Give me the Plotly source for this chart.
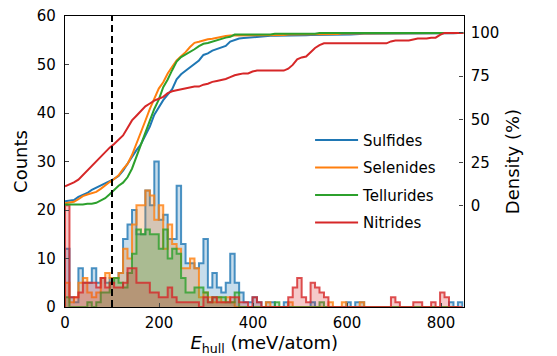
import numpy as np
import plotly.graph_objects as go
from plotly.subplots import make_subplots

# ---- data -------------------------------------------------------------
BIN_W = 9.5          # meV per histogram bin
X_MAX = 848          # axis upper limit (meV/atom)
CUTOFF = 100         # dashed reference line (meV/atom)

names = ["Sulfides", "Selenides", "Tellurides", "Nitrides"]
colors = ["#1f77b4", "#ff7f0e", "#2ca02c", "#d62728"]

def pad(v, n=88):
    return v + [0] * (n - len(v))

sulfides = pad([12, 2, 1, 8, 5, 5, 8, 5, 6, 5, 6,
                6, 7, 14, 17, 20, 15, 15, 24, 21, 30,
                18, 19, 14, 14, 25, 13, 9, 9, 8, 9,
                14, 4, 7, 4, 3, 5, 11, 5, 3, 1,
                1, 2, 1, 0, 1, 1, 0, 0, 1, 0,
                0, 0, 0, 0, 1, 0, 0, 0, 0, 0,
                0, 0, 1, 0, 1, 1, 0, 0, 0, 0,
                0, 0, 0, 0, 0, 0, 0, 0, 0, 0,
                0, 0, 0, 0, 0, 1, 0, 1])
selenides = pad([5, 1, 2, 5, 6, 3, 2, 3, 6, 7, 6,
                 6, 7, 12, 10, 17, 21, 21, 24, 23, 18,
                 21, 12, 17, 13, 12, 8, 8, 10, 8, 2,
                 3, 2, 1, 2, 1, 2, 1, 0, 0, 0,
                 0, 0, 0, 0, 1, 0, 0, 0, 0, 1,
                 0, 0, 0, 0, 0, 0, 0, 0, 1, 0,
                 0, 1, 0, 0, 0, 1])
tellurides = pad([2, 0, 0, 0, 0, 1, 0, 1, 3, 3, 5,
                  6, 5, 4, 7, 11, 16, 15, 16, 15, 15,
                  12, 16, 10, 12, 11, 6, 3, 3, 4, 4,
                  3, 1, 2, 2, 2, 1, 1, 3, 0, 0,
                  0, 0, 0, 0, 0, 0, 1, 0, 0, 0,
                  0, 0, 0, 0, 0, 0, 1])
nitrides = pad([21, 2, 2, 3, 5, 5, 5, 4, 6, 4, 5,
                4, 4, 5, 8, 8, 5, 5, 5, 3, 3,
                2, 2, 4, 2, 1, 1, 1, 1, 1, 0,
                2, 1, 2, 1, 1, 1, 2, 2, 1, 1,
                0, 2, 1, 0, 0, 0, 0, 0, 0, 2,
                4, 6, 2, 1, 5, 4, 3, 2, 0, 0,
                0, 0, 0, 0, 0, 0, 0, 0, 0, 0,
                0, 0, 2, 1, 0, 0, 0, 1, 1, 0,
                0, 1, 0, 3, 2, 0, 0, 0])
series = [sulfides, selenides, tellurides, nitrides]

x_ticks = [0, 200, 400, 600, 800]
y_ticks = [0, 10, 20, 30, 40, 50, 60]
dens_ticks = [0, 25, 50, 75, 100]

# ---- figure -----------------------------------------------------------
def rgba(hexc, a):
    h = hexc.lstrip("#")
    r, g, b = int(h[0:2], 16), int(h[2:4], 16), int(h[4:6], 16)
    return f"rgba({r},{g},{b},{a})"

fig = make_subplots(specs=[[{"secondary_y": True}]])

for name, col, counts in zip(names, colors, series):
    c = np.array(counts, dtype=float)
    edges = np.arange(len(c) + 1) * BIN_W
    xs = np.concatenate([[edges[0]], edges])
    ys = np.concatenate([[0], c, [0]])
    fig.add_trace(go.Scatter(
        x=xs, y=ys, mode="lines", line_shape="hv",
        line=dict(color=rgba(col, 0.8), width=2),
        fill="tozeroy", fillcolor=rgba(col, 0.25),
        showlegend=False, hoverinfo="skip"), secondary_y=False)

for name, col, counts in zip(names, colors, series):
    c = np.array(counts, dtype=float)
    edges = np.arange(len(c) + 1) * BIN_W
    cum = np.cumsum(c) / c.sum() * 100
    xs = np.concatenate([edges[:-1], [X_MAX]])
    ys = np.concatenate([cum, [100]])
    fig.add_trace(go.Scatter(
        x=xs, y=ys, mode="lines", name=name, legendgroup=name,
        line=dict(color=col, width=2)), secondary_y=True)

fig.add_shape(type="line", x0=CUTOFF, x1=CUTOFF, y0=0, y1=1,
              xref="x", yref="paper", layer="above",
              line=dict(color="black", width=2, dash="7px,4px"))

font = dict(family="DejaVu Sans", size=15, color="black")
fig.update_layout(
    width=557, height=356,
    margin=dict(l=65, r=68, t=16, b=49, autoexpand=False),
    plot_bgcolor="white", paper_bgcolor="white",
    font=font,
    legend=dict(x=0.578, y=0.63, xanchor="left", yanchor="top",
                bgcolor="rgba(0,0,0,0)", itemwidth=43, tracegroupgap=5,
                font=dict(family="DejaVu Sans", size=15)),
)
fig.update_xaxes(range=[0, X_MAX], tickvals=x_ticks, ticks="inside", ticklen=4,
                 showline=True, linecolor="black", linewidth=1.2, mirror=True,
                 showgrid=False, zeroline=False, automargin=False,
                 ticklabelstandoff=2,
                 title=dict(text="<i>E</i><sub>hull</sub> (meV/atom)", standoff=4))
fig.update_yaxes(range=[0, 60], tickvals=y_ticks, ticks="inside", ticklen=4,
                 showline=True, linecolor="black", linewidth=1.2, mirror=True,
                 showgrid=False, zeroline=False, automargin=False,
                 ticklabelstandoff=5,
                 title=dict(text="Counts", standoff=4), secondary_y=False)
fig.update_yaxes(range=[-58.4, 109.8], tickvals=dens_ticks, ticks="inside", ticklen=4,
                 showline=True, linecolor="black", linewidth=1.2,
                 showgrid=False, zeroline=False, automargin=False,
                 ticklabelstandoff=3,
                 title=dict(text="Density (%)", standoff=8), secondary_y=True)

fig.write_html("out.html")
